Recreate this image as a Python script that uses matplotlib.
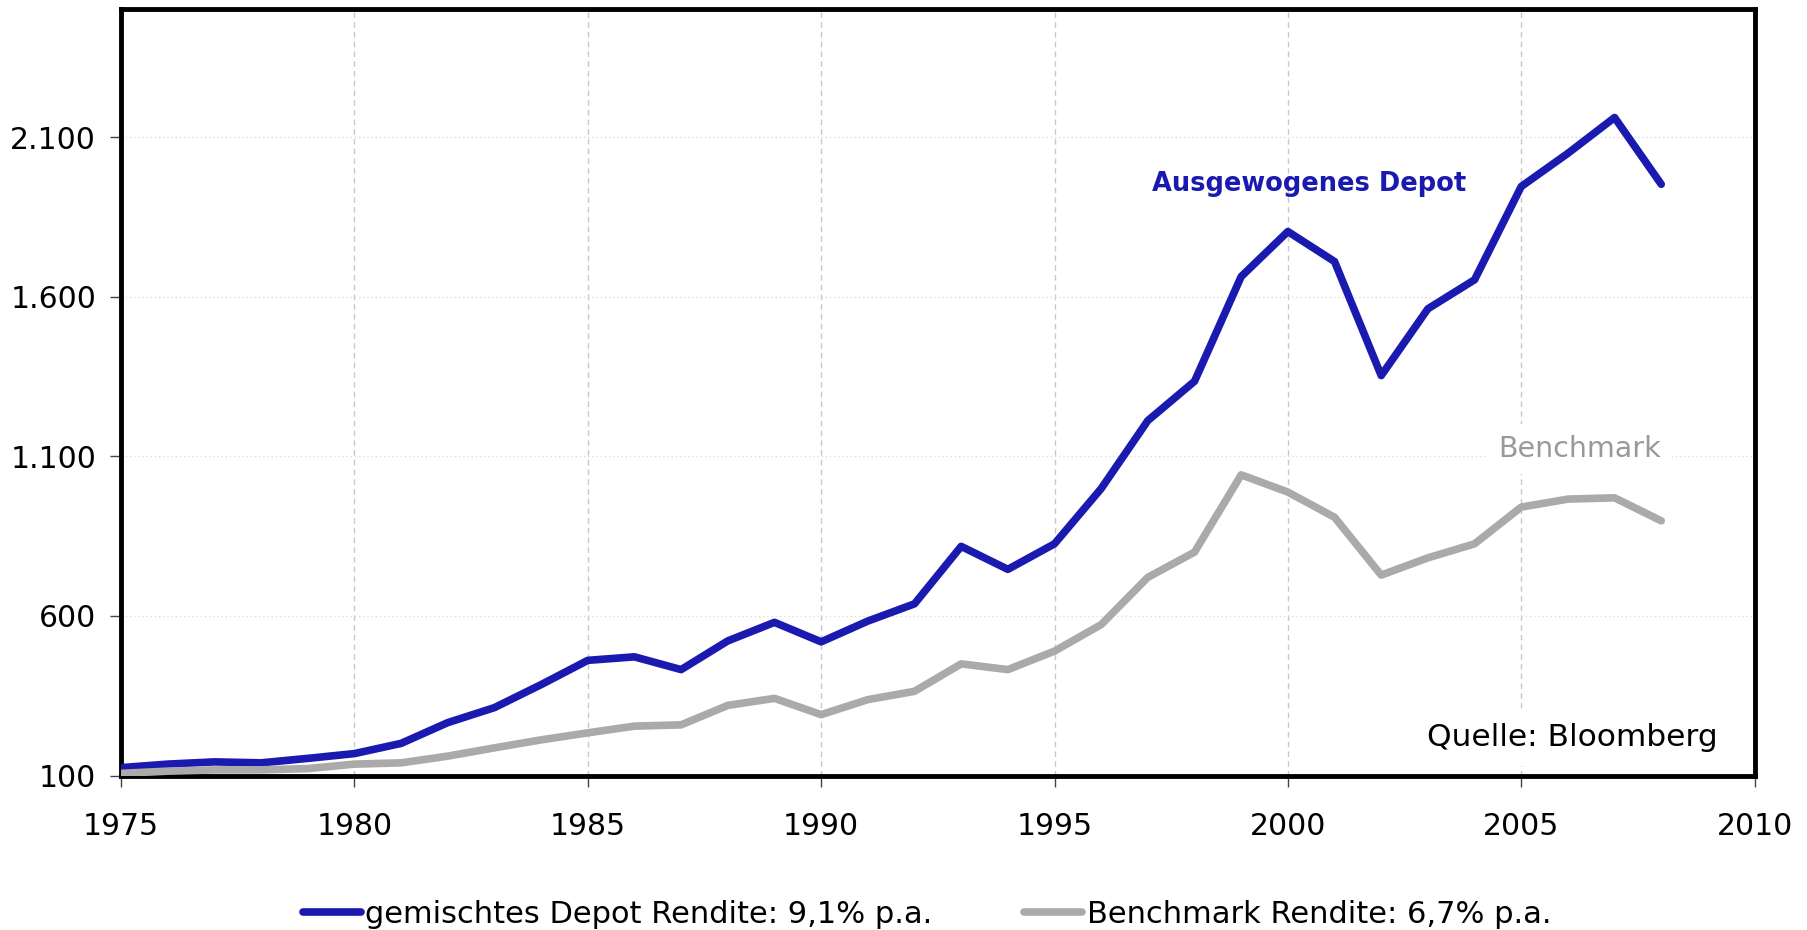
import numpy as np
import matplotlib
matplotlib.use("Agg")
import matplotlib.pyplot as plt

# Data #
years = list(range(1975, 2009))
depot = [125, 136, 143, 140, 154, 169, 201, 266, 313, 385,
         461, 472, 432, 522, 580, 519, 584, 638, 818, 746,
         826, 999, 1212, 1335, 1663, 1804, 1710, 1353, 1562, 1653,
         1945, 2049, 2161, 1952]
benchmark = [107, 114, 118, 118, 122, 136, 140, 161, 187, 212,
             234, 255, 259, 320, 342, 291, 338, 364, 450, 432,
             490, 573, 721, 800, 1042, 988, 909, 728, 782, 826,
             941, 966, 970, 898]

x_ticks = [1975, 1980, 1985, 1990, 1995, 2000, 2005, 2010]
y_ticks = [100, 600, 1100, 1600, 2100]
y_labels = ["100", "600", "1.100", "1.600", "2.100"]

label_depot = "gemischtes Depot Rendite: 9,1% p.a."
label_bench = "Benchmark Rendite: 6,7% p.a."

BLUE = "#1a1ab0"
GREY = "#aaaaaa"

plt.rcParams["font.family"] = ["DejaVu Sans"]

# Plotting #
fig = plt.figure(figsize=(18.07, 9.30), dpi=100)
ax = fig.add_axes([0.067, 0.166, 0.904, 0.824])

ax.plot(years, depot, color=BLUE, lw=5.5, solid_capstyle="round",
        solid_joinstyle="round", label=label_depot, zorder=3)
ax.plot(years, benchmark, color=GREY, lw=5.5, solid_capstyle="round",
        solid_joinstyle="round", label=label_bench, zorder=3)

ax.set_xlim(1975, 2010)
ax.set_ylim(100, 2500)
ax.set_xticks(x_ticks)
ax.set_yticks(y_ticks)
ax.set_yticklabels(y_labels)
ax.tick_params(labelsize=21.5, length=8, width=1, color="#444444")
ax.tick_params(axis="x", pad=18)
ax.tick_params(axis="y", pad=10)

ax.xaxis.grid(True, color="#c8c8c8", ls=(0, (4, 3)), lw=1)
ax.yaxis.grid(True, color="#dddddd", ls=(0, (1, 2)), lw=1)
ax.set_axisbelow(True)

for s in ax.spines.values():
    s.set_linewidth(3.5)
    s.set_color("black")

ax.text(2000.45, 1952, "Ausgewogenes Depot", color=BLUE, fontsize=18.5,
        fontweight="bold", ha="center", va="center", zorder=4)
ax.text(2006.25, 1122, "Benchmark", color="#999999", fontsize=20.5,
        ha="center", va="center", zorder=4,
        bbox=dict(facecolor="white", edgecolor="none", pad=8))
ax.text(2009.2, 220, "Quelle: Bloomberg", color="black", fontsize=22.5,
        ha="right", va="center", zorder=4,
        bbox=dict(facecolor="white", edgecolor="none", pad=10))

fig.legend(loc="center", bbox_to_anchor=(0.513, 0.017), ncol=2,
           frameon=False, fontsize=22, handlelength=1.9,
           handletextpad=0.15, columnspacing=3.0)

fig.savefig("out.png", dpi=100)
